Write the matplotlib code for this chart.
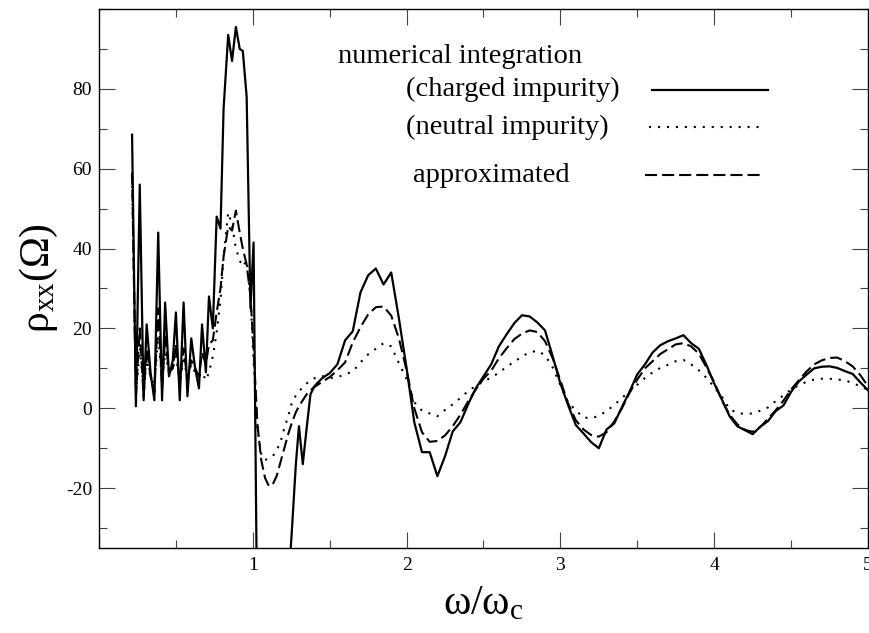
import numpy as np
import matplotlib.pyplot as plt
from matplotlib.ticker import MultipleLocator

plt.rcParams['font.family'] = 'Liberation Serif'
plt.rcParams['mathtext.fontset'] = 'custom'
plt.rcParams['mathtext.rm'] = 'Liberation Serif'
plt.rcParams['mathtext.it'] = 'Liberation Serif:italic'
plt.rcParams['axes.unicode_minus'] = False

# omega / omega_c
w = [0.215, 0.24, 0.265, 0.29, 0.31, 0.335, 0.36, 0.385, 0.41, 0.43,
     0.455, 0.48, 0.50, 0.525, 0.55, 0.575, 0.60, 0.625, 0.65, 0.67,
     0.695, 0.715, 0.74, 0.765, 0.79, 0.81, 0.84, 0.865, 0.89, 0.915,
     0.935, 0.96, 0.985, 1.005, 1.03, 1.055, 1.08, 1.105, 1.13, 1.155,
     1.18, 1.205, 1.23, 1.255, 1.28, 1.30, 1.325, 1.35, 1.375, 1.40,
     1.45, 1.50, 1.55, 1.60, 1.65, 1.70, 1.75, 1.80, 1.85, 1.90,
     1.95, 2.00, 2.05, 2.10, 2.15, 2.20, 2.25, 2.30, 2.35, 2.40,
     2.45, 2.50, 2.55, 2.60, 2.65, 2.70, 2.75, 2.80, 2.85, 2.90,
     2.95, 3.00, 3.05, 3.10, 3.15, 3.20, 3.25, 3.30, 3.35, 3.40,
     3.45, 3.50, 3.55, 3.60, 3.65, 3.70, 3.75, 3.80, 3.85, 3.90,
     3.95, 4.00, 4.05, 4.10, 4.15, 4.20, 4.25, 4.30, 4.35, 4.40,
     4.45, 4.50, 4.55, 4.60, 4.65, 4.70, 4.75, 4.80, 4.85, 4.90,
     4.95, 5.00]

# numerical integration, charged impurity
rho_charged = [68.5, 0.5, 56, 2, 21, 9, 2, 44, 2, 26.5,
               8, 12, 24, 2, 26.5, 3, 17.5, 10, 5, 21,
               9, 28, 20, 48, 45, 75, 93.5, 87, 95.5, 90,
               89.5, 78, 25, 41.5, -60, -80, -90, -90, -85, -75,
               -65, -55, -45, -30, -14, -4.5, -14, -5, 3.5, 5.5,
               7.5, 8.8, 11, 17, 19.3, 29, 33.3, 35, 31, 34,
               22.5, 10, -3.5, -11, -11, -17, -12, -5.8, -3.5, 1,
               5, 8, 11, 15.5, 18.5, 21.3, 23.3, 23, 21.5, 19.5,
               13, 6.2, 0.8, -4.2, -6.3, -8.5, -10, -5.3, -3.8, 0.3,
               4.2, 8.5, 11, 14, 15.8, 16.8, 17.5, 18.3, 16.3, 14.9,
               10.8, 6.2, 2.2, -2, -4.5, -5.5, -6.5, -4.6, -3.2, -0.7,
               0.7, 4.1, 6.7, 8.4, 10, 10.4, 10.5, 10.1, 9.3, 8.6,
               6.5, 4.5]

# numerical integration, neutral impurity
rho_neutral = [58, 4, 15, 5, 12, 8, 6, 18, 7, 14,
               9, 10, 13, 7, 12, 8, 11, 9, 8, 9,
               7, 9, 13, 19, 27, 38, 49, 46, 40, 37,
               35.5, 37, 28, 12, -5, -11.5, -13, -12.5, -12, -10.5,
               -8.5, -5, -2, 1.5, 3.2, 4.2, 5.3, 6.2, 7, 7.5,
               8.1, 7.5, 7.8, 8.5, 9.2, 11.5, 13.5, 14.9, 16.3, 15.5,
               11.3, 7.3, 1.5, -0.6, -1.3, -2, -0.4, 1, 2.6, 4.3,
               5.6, 6.7, 7.7, 8.9, 10.4, 11.6, 13, 14, 14.4, 13.3,
               10.2, 5.8, 1.5, -0.5, -2.3, -2.5, -1.9, -0.7, 0.8, 2.6,
               4.2, 5.9, 7.6, 9, 10.1, 10.9, 11.8, 12.1, 11, 9.5,
               7.6, 5.3, 2.9, -0.2, -1.2, -1.4, -1.3, -0.6, 0.2, 1.8,
               3.2, 4.7, 5.8, 6.6, 7.2, 7.4, 7.4, 7.2, 7, 6.3,
               5.5, 4.6]

# approximated
rho_approx = [59, 3, 20, 3, 15, 8, 4, 25, 5, 18,
              9, 10, 16, 6, 15, 7, 12, 10, 8, 14,
              11, 16, 17, 24, 30, 38, 45.5, 44.5, 49.5, 44,
              40, 36, 28, 15, -4, -13, -17.5, -19.5, -19, -17,
              -13.5, -10, -6.5, -3.5, -1, 0.5, 2, 3.5, 4.5, 5.3,
              6.6, 7.8, 9.5, 11.5, 16.5, 20.3, 23.5, 25.3, 25.5, 23.2,
              17.5, 9.5, 0, -6, -8.4, -8.2, -6.8, -4.5, -1.6, 1.7,
              4.7, 7.4, 9.4, 12.5, 15, 17.3, 18.7, 19.5, 19.1, 16.8,
              12.5, 7, 1.2, -3, -5.3, -6.7, -7.1, -6, -3.3, 0,
              3.9, 7.2, 10, 11.8, 13.6, 14.8, 16, 16.3, 15.5, 13.7,
              10.2, 6.5, 2, -1.6, -4, -5.4, -5.9, -4.7, -2.6, -0.5,
              1.9, 4.7, 7, 9.2, 11, 12, 12.6, 12.7, 11.8, 10.5,
              8.3, 5.5]

solid = '-'
dotted = (0, (1, 3.3))
dashed = (0, (5.8, 2.4))

fig = plt.figure(figsize=(8.7, 6.33), dpi=100)
ax = fig.add_axes([99 / 870, 85 / 633, 769 / 870, 539 / 633])

ax.plot(w, rho_charged, color='black', lw=1.6, linestyle=solid)
ax.plot(w, rho_neutral, color='black', lw=1.5, linestyle=dotted)
ax.plot(w, rho_approx, color='black', lw=1.5, linestyle=dashed)

ax.set_xlim(0, 5)
ax.set_ylim(-35, 100)
ax.xaxis.set_minor_locator(MultipleLocator(0.5))
ax.yaxis.set_minor_locator(MultipleLocator(10))
ax.set_xticks([1, 2, 3, 4, 5])
ax.set_yticks([-20, 0, 20, 40, 60, 80])
ax.tick_params(which='both', direction='in', top=True, right=True,
               color='#444444', width=0.8, labelsize=14)
ax.tick_params(which='major', length=11.5)
ax.tick_params(which='minor', length=6)
ax.tick_params(axis='x', pad=6.5)
ax.tick_params(axis='y', pad=5)
for sp in ax.spines.values():
    sp.set_linewidth(1.0)

ax.set_xlabel(r'$\mathrm{ω/ω_c}$', fontsize=30, labelpad=8)
ax.set_ylabel(r'$\mathrm{ρ_{xx}(Ω)}$', fontsize=30, labelpad=4)

# legend block
tr = ax.transAxes
ax.text(0.311, 0.911, 'numerical integration', transform=tr, fontsize=20.5, va='center')
ax.text(0.399, 0.850, '(charged impurity)', transform=tr, fontsize=20.5, va='center')
ax.text(0.399, 0.781, '(neutral impurity)', transform=tr, fontsize=20.5, va='center')
ax.text(0.408, 0.692, 'approximated', transform=tr, fontsize=20.5, va='center')
ax.plot([0.719, 0.870], [0.850, 0.850], transform=tr, color='black', lw=1.6, linestyle=solid)
ax.plot([0.715, 0.863], [0.781, 0.781], transform=tr, color='black', lw=1.5, linestyle=dotted)
ax.plot([0.710, 0.863], [0.692, 0.692], transform=tr, color='black', lw=1.5, linestyle=dashed)

plt.savefig('out.png', dpi=100)
